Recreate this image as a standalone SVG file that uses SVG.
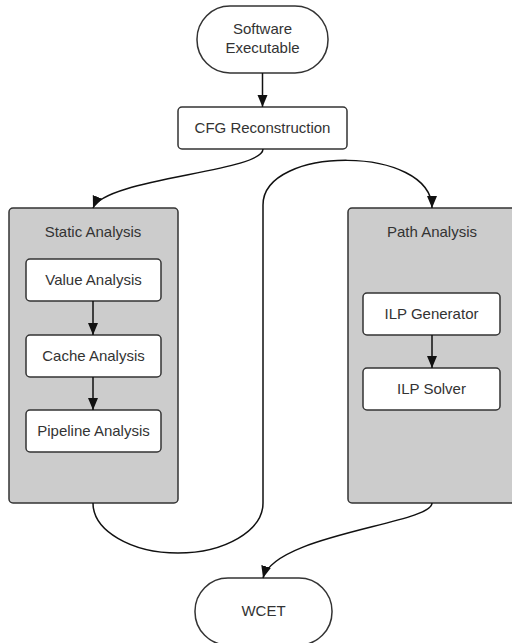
<svg xmlns="http://www.w3.org/2000/svg" width="512" height="643" viewBox="0 0 512 643">
  <style>
    .lbl { font-family: "Liberation Sans", Arial, sans-serif; font-size: 15px; fill: #333; text-anchor: middle; }
    .box { fill: #fff; stroke: #333; stroke-width: 1.5; }
    .grp { fill: #cccccc; stroke: #333; stroke-width: 1.5; }
    .edge { fill: none; stroke: #111; stroke-width: 1.5; }
  </style>
  <defs>
    <marker id="arrow" markerUnits="userSpaceOnUse" markerWidth="12" markerHeight="12" viewBox="0 0 12 12" refX="12" refY="6" orient="auto">
      <path d="M0,1 L12,6 L0,11 Z" fill="#111"/>
    </marker>
  </defs>

  <rect width="512" height="643" fill="#fff"/>

  <!-- containers -->
  <g id="static-analysis">
    <rect class="grp" x="9" y="208" width="169" height="295" rx="4"/>
    <text class="lbl" x="93" y="237">Static Analysis</text>
  </g>
  <g id="path-analysis">
    <rect class="grp" x="348" y="208" width="169" height="295" rx="4"/>
    <text class="lbl" x="432" y="237">Path Analysis</text>
  </g>

  <!-- terminals and steps -->
  <g id="software-executable">
    <rect class="box" x="197" y="6" width="131" height="67" rx="33"/>
    <text class="lbl" x="262.5" y="34">Software</text>
    <text class="lbl" x="262.5" y="53">Executable</text>
  </g>
  <g id="cfg-reconstruction">
    <rect class="box" x="178" y="107" width="169" height="42" rx="4"/>
    <text class="lbl" x="262.5" y="133">CFG Reconstruction</text>
  </g>
  <g id="value-analysis">
    <rect class="box" x="26" y="259" width="135" height="42" rx="4"/>
    <text class="lbl" x="93.5" y="285">Value Analysis</text>
  </g>
  <g id="cache-analysis">
    <rect class="box" x="26" y="335" width="135" height="42" rx="4"/>
    <text class="lbl" x="93.5" y="361">Cache Analysis</text>
  </g>
  <g id="pipeline-analysis">
    <rect class="box" x="26" y="410" width="135" height="42" rx="4"/>
    <text class="lbl" x="93.5" y="436">Pipeline Analysis</text>
  </g>
  <g id="ilp-generator">
    <rect class="box" x="363" y="293" width="137" height="42" rx="4"/>
    <text class="lbl" x="431.5" y="319">ILP Generator</text>
  </g>
  <g id="ilp-solver">
    <rect class="box" x="363" y="368" width="137" height="42" rx="4"/>
    <text class="lbl" x="431.5" y="394">ILP Solver</text>
  </g>
  <g id="wcet">
    <rect class="box" x="195" y="578" width="137" height="67" rx="33"/>
    <text class="lbl" x="263.5" y="616">WCET</text>
  </g>

  <!-- connectors -->
  <g id="connectors">
    <path class="edge" d="M262.5,73 L262.5,107" marker-end="url(#arrow)"/>
    <path class="edge" d="M263,149 C263,172 105,178 93,208" marker-end="url(#arrow)"/>
    <path class="edge" d="M93,503 A85,50 0 0 0 263,503 L263,205 C263,145 432,145 432,208" marker-end="url(#arrow)"/>
    <path class="edge" d="M432,503 C432,524 275,534 263,578" marker-end="url(#arrow)"/>
    <path class="edge" d="M93,301 L93,335" marker-end="url(#arrow)"/>
    <path class="edge" d="M93,377 L93,410" marker-end="url(#arrow)"/>
    <path class="edge" d="M432,335 L432,368" marker-end="url(#arrow)"/>
  </g>
</svg>
